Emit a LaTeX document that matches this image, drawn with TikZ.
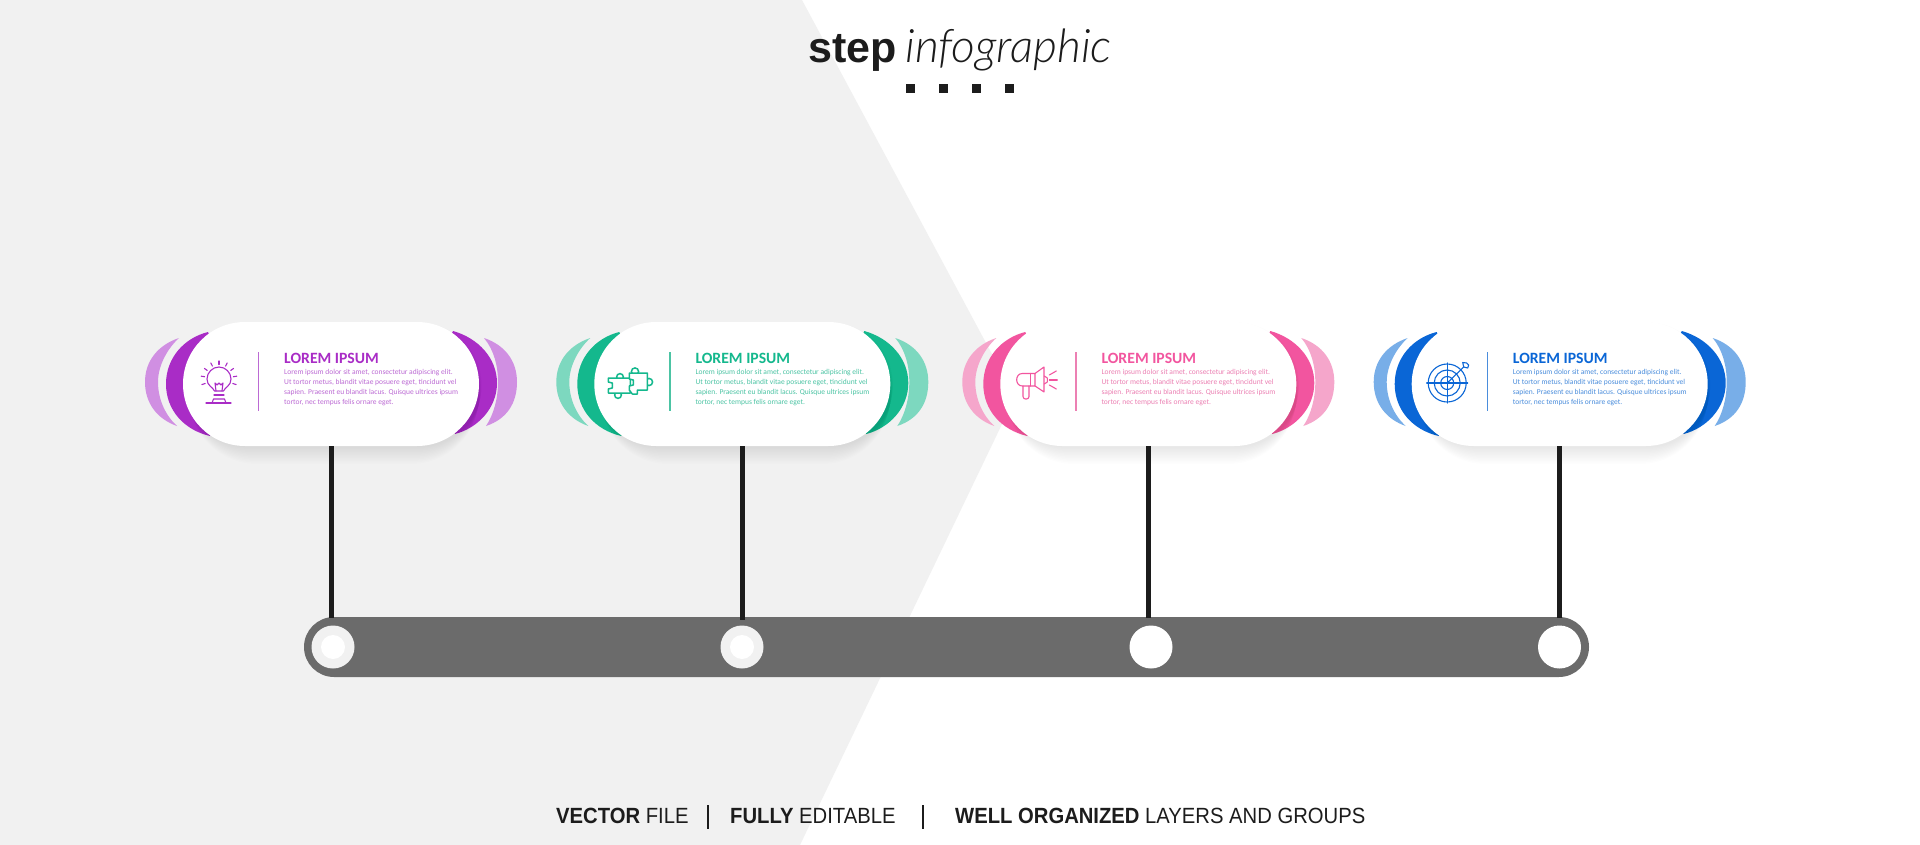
\documentclass[tikz,border=0pt]{standalone}
\usepackage{fontspec}
\usetikzlibrary{shapes.misc}
\setmainfont{Liberation Sans}
\newfontfamily\lightf{Lato Light}
\newfontfamily\cardf{Carlito}
\newfontfamily\footf[FakeStretch=0.92]{Liberation Sans}
\definecolor{bgG}{HTML}{F1F1F1}
\definecolor{barG}{HTML}{6B6B6B}
\definecolor{inkK}{HTML}{1C1C1C}
\definecolor{pDark}{HTML}{A92CC6}\definecolor{pLight}{HTML}{D08FE2}\definecolor{pText}{HTML}{BC6AD4}
\definecolor{gDark}{HTML}{14B88D}\definecolor{gLight}{HTML}{7DD8BF}\definecolor{gText}{HTML}{4CC4A4}
\definecolor{rDark}{HTML}{F2559F}\definecolor{rLight}{HTML}{F5A6CB}\definecolor{rText}{HTML}{EC80B3}
\definecolor{bDark}{HTML}{0A66D6}\definecolor{bLight}{HTML}{78AEE8}\definecolor{bText}{HTML}{4A8DDC}
\tikzset{
  pillbox/.style={shape=rounded rectangle,minimum width=296pt,minimum height=124pt,inner sep=0pt,fill=white},
  stem/.style={draw=inkK,line width=5pt},
  hole/.style={shape=circle,minimum size=43pt,inner sep=0pt,fill=bgG},
  holeW/.style={shape=circle,minimum size=43pt,inner sep=0pt,fill=white},
  holecore/.style={shape=circle,minimum size=24pt,inner sep=0pt,fill=white},
  ic/.style={line width=1.1pt,line join=round,line cap=round},
  dot/.style={shape=rectangle,minimum size=9pt,inner sep=0pt,fill=inkK},
  cardtitle/.style={anchor=base west,inner sep=0pt,font=\cardf\bfseries\fontsize{15.7}{15.7}\selectfont},
  cardbody/.style={anchor=north west,inner sep=0pt,align=left,font=\cardf\fontsize{7.5}{10}\selectfont},
  foot/.style={anchor=base west,inner sep=0pt,text=inkK,font=\footf\fontsize{22}{22}\selectfont},
}
% #1 id, #2 x offset, #3 dark, #4 light, #5 text colour, #6 icon code
\newcommand{\stepcard}[6]{%
\begin{scope}[xshift=#2pt]
  \fill[#4] (179,338) .. controls (158,345) and (145,361) .. (145,382) .. controls (145,403) and (157,419) .. (177,426) .. controls (166,416) and (158,400) .. (158,382) .. controls (158,365) and (168,348) .. (179,338) -- cycle;
  \fill[#4] (484,338) .. controls (505,345) and (517,361) .. (517,382) .. controls (517,403) and (507,419) .. (486,426) .. controls (494,414) and (498,398) .. (498,382) .. controls (498,366) and (494,350) .. (484,338) -- cycle;
  \fill[#3] (208,332) .. controls (184,338) and (166,358) .. (166,384) .. controls (166,410) and (184,430) .. (210,436) -- (230,384) -- cycle;
  \fill[#3] (453,331) .. controls (478,338) and (497,358) .. (497,383) .. controls (497,408) and (478,428) .. (455,434) -- (430,384) -- cycle;
  \foreach \k in {1,...,12}{\node[pillbox,fill=black,opacity=0.008,minimum width=296pt-\k*0.5pt,minimum height=124pt+\k*1pt] at (334,384+\k) {};}
  \node[pillbox] (pill#1) at (331,384) {};
  \draw[#5,line width=1.3pt] (258.7,352) -- (258.7,411);
  \node[cardtitle,text=#3] (head#1) at (284,363.5) {LOREM IPSUM};
  \node[cardbody,text=#5] (body#1) at (284,369.5) {Lorem ipsum dolor sit amet, consectetur adipiscing elit.\\Ut tortor metus, blandit vitae posuere eget, tincidunt vel\\sapien. Praesent eu blandit lacus. Quisque ultrices ipsum\\tortor, nec tempus felis ornare eget.};
  \begin{scope}[ic,draw=#3]#6\end{scope}
\end{scope}}
\begin{document}
\begin{tikzpicture}[x=1pt,y=-1pt]
\useasboundingbox (0,0) rectangle (1920,845);
\fill[white] (0,0) rectangle (1920,845);
\fill[bgG] (0,0) -- (802,0) -- (1015,397) -- (800,845) -- (0,845) -- cycle;
% title
\node[anchor=base west,inner sep=0pt,text=inkK,font=\bfseries\fontsize{43}{43}\selectfont] (t1) at (808,62.5) {step};
\node[anchor=base west,inner sep=0pt,text=inkK,font=\lightf\itshape\fontsize{46.2}{46.2}\selectfont] (t2) at (905,62.5) {infographic};
\node[dot] (d1) at (910,89) {};
\node[dot] (d2) at (943,89) {};
\node[dot] (d3) at (976,89) {};
\node[dot] (d4) at (1009,89) {};
% bar
\node[shape=rounded rectangle,minimum width=1285pt,minimum height=60pt,inner sep=0pt,fill=barG] (bar) at (946.5,647) {};
% cards
\stepcard{A}{0}{pDark}{pLight}{pText}{%
  \draw (214.5,391) .. controls (213,387) and (207,386) .. (207,379) .. controls (207,372.5) and (212.5,367) .. (219,367) .. controls (225.5,367) and (231,372.5) .. (231,379) .. controls (231,386) and (225,387) .. (223.5,391) -- cycle;
  \draw (216,391) -- (215,383) -- (217,385) -- (219,383) -- (221,385) -- (223,383) -- (222,391);
  \draw (214,395) -- (224,395);
  \draw (212,403) -- (213.5,399) -- (224.5,399) -- (226,403);
  \draw (206,403) -- (231,403);
  \foreach \a in {-90,-63,-36,-9,18,-117,-144,-171,-198}{\draw (219,379) ++(\a:14.5) -- ++(\a:3.5);}
}
\stepcard{B}{411.3}{gDark}{gLight}{gText}{%
  \begin{scope}[line width=1.5pt]
  \draw (208.7,377) circle (3.4);
  \draw (206.7,395) circle (3.4);
  \draw (223.7,371.5) circle (3.6);
  \draw (237.7,382) circle (3.6);
  \draw[fill=white] (197,378) -- (219,378) -- (219,393) -- (197,393) -- (197,389) -- (201,388) -- (201,383) -- (197,382) -- cycle;
  \draw[fill=white] (218,373) -- (236,373) -- (236,390) -- (226,390) -- (226,394) -- (221,394) -- (218,390) -- (218,386) -- (222,385) -- (222,380) -- (218,379) -- cycle;
  \end{scope}
}
\stepcard{C}{817.3}{rDark}{rLight}{rText}{%
  \draw (217.7,373.5) -- (205,373.5) .. controls (197.5,373.5) and (197.5,386) .. (205,386) -- (217.7,386) -- cycle;
  \draw (213,373.5) -- (213,386);
  \draw (217.7,373.5) -- (226.7,367) -- (226.7,392) -- (217.7,386);
  \draw (205.7,386) -- (205.7,396.5) .. controls (205.7,400) and (211.7,400) .. (211.7,396.5) -- (211.7,386);
  \draw (227,376) -- (230,378) -- (230,382) -- (227,384);
  \draw (232,375) -- (239,371);
  \draw (232,380) -- (240,380);
  \draw (232,385) -- (239,389);
}
\stepcard{D}{1228.7}{bDark}{bLight}{bText}{%
  \draw (218.5,383) circle (19);
  \draw (218.5,383) circle (13);
  \draw (218.5,383) circle (6.5);
  \draw (198,383) -- (239,383);
  \draw (218.5,363) -- (218.5,403);
  \draw (218.5,383) -- (235,367);
  \draw[fill=white] (235,367) -- (234,362.5) -- (238,363) -- (240,365) -- (239,368) -- cycle;
}
% holes
\node[hole] (h1) at (333,647) {};
\node[holecore] (c1) at (h1) {};
\node[hole] (h2) at (742,647) {};
\node[holecore] (c2) at (h2) {};
\node[holeW] (h3) at (1151,647) {};
\node[holeW] (h4) at (1559.5,647) {};
% stems
\coordinate (eA) at (331,618);
\coordinate (eB) at (742.3,620);
\coordinate (eC) at (1148.3,618);
\coordinate (eD) at (1559.7,618);
\draw[stem] (pillA.south) -- (eA);
\draw[stem] (pillB.south) -- (eB);
\draw[stem] (pillC.south) -- (eC);
\draw[stem] (pillD.south) -- (eD);
% footer
\node[foot] (f1) at (556,823) {\bfseries VECTOR\mdseries{} FILE};
\node[foot] (f2) at (730,823) {\bfseries FULLY\mdseries{} EDITABLE};
\node[foot] (f3) at (955,823) {\bfseries WELL ORGANIZED\mdseries{} LAYERS AND GROUPS};
\draw[inkK,line width=1.6pt] (708,805) -- (708,829);
\draw[inkK,line width=1.6pt] (923,805) -- (923,829);
\end{tikzpicture}
\end{document}
